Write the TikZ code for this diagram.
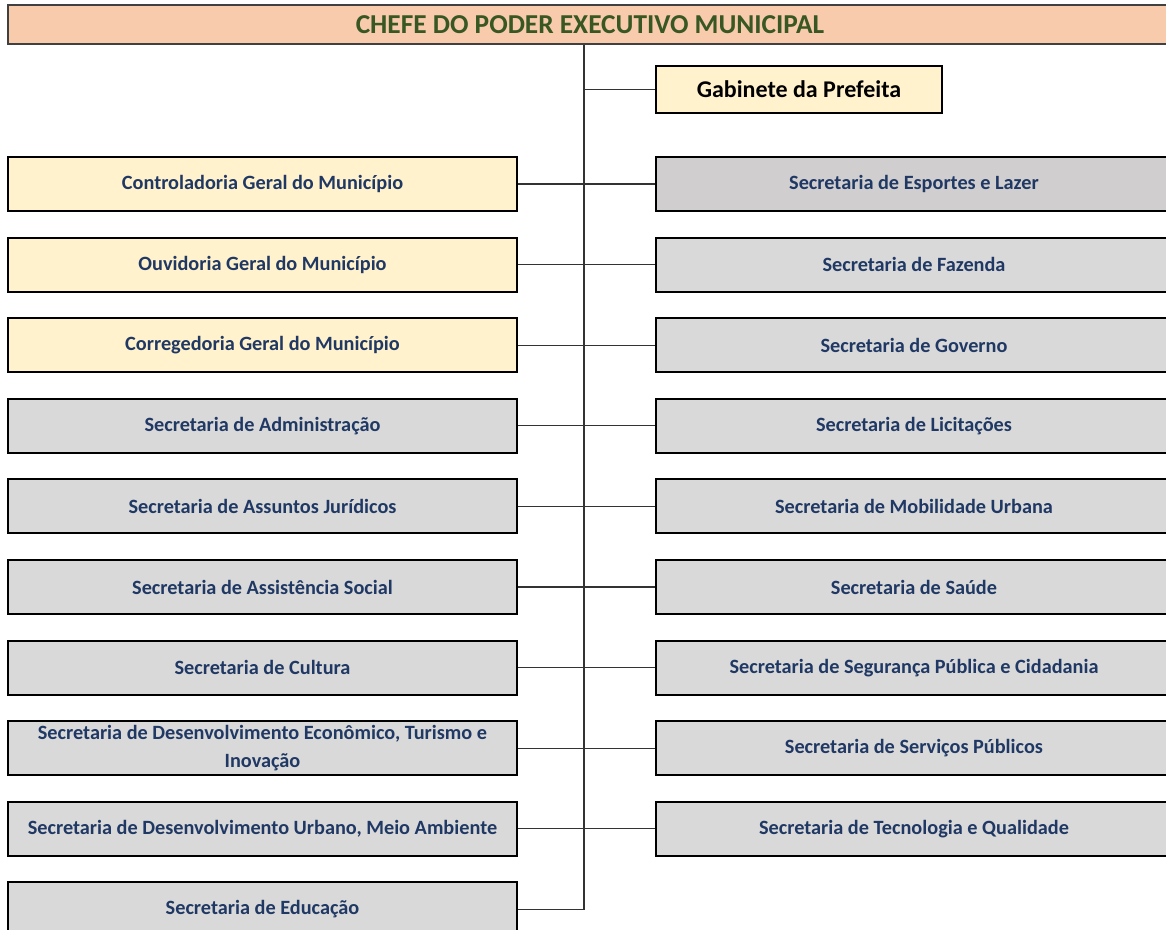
\documentclass[tikz,border=0pt]{standalone}
\usepackage{fontspec}
\setmainfont{Carlito}
\definecolor{peach}{HTML}{F8CBAD}
\definecolor{chefegreen}{HTML}{385723}
\definecolor{creme}{HTML}{FFF2CC}
\definecolor{cinza}{HTML}{D9D9D9}
\definecolor{cinzaesc}{HTML}{D0CECE}
\definecolor{azul}{HTML}{203864}

\begin{document}
\begin{tikzpicture}[x=0.75pt,y=-0.75pt,
	chefebox/.style={draw=black!75,line width=1.1pt,fill=peach,minimum width=873pt,minimum height=29.25pt,inner sep=0pt,text=chefegreen,font=\fontsize{20.5}{22}\selectfont\bfseries},
	gabbox/.style={draw=black,line width=1.6pt,fill=creme,minimum width=214.5pt,minimum height=35.25pt,inner sep=0pt,font=\fontsize{18}{20}\selectfont\bfseries},
	leftbox/.style={draw=black,line width=1.6pt,fill=cinza,minimum width=381.75pt,minimum height=40.5pt,inner sep=0pt,text=azul,align=center,font=\fontsize{15.2}{21}\selectfont\bfseries},
	rightbox/.style={leftbox,minimum width=387pt},
	link/.style={draw=black!80,line width=0.8pt}]
						\useasboundingbox (0,0) rectangle (1166,929);
						\node[chefebox] (chefe) at (590,24.5) {CHEFE DO PODER EXECUTIVO MUNICIPAL};
						\node[gabbox] (gab) at (799,89.5) {Gabinete da Prefeita};
						\node[leftbox,fill=creme] (cgm) at (262.5,184) {Controladoria Geral do Município};
						\node[leftbox,fill=creme] (ogm) at (262.5,264.6) {Ouvidoria Geral do Município};
						\node[leftbox,fill=creme] (corr) at (262.5,345.2) {Corregedoria Geral do Município};
						\node[leftbox] (adm) at (262.5,425.8) {Secretaria de Administração};
						\node[leftbox] (jur) at (262.5,506.4) {Secretaria de Assuntos Jurídicos};
						\node[leftbox] (assist) at (262.5,587) {Secretaria de Assistência Social};
						\node[leftbox] (cult) at (262.5,667.6) {Secretaria de Cultura};
						\node[leftbox] (desec) at (262.5,748.2) {Secretaria de Desenvolvimento Econômico, Turismo e\\Inovação};
						\node[leftbox] (desurb) at (262.5,828.8) {Secretaria de Desenvolvimento Urbano, Meio Ambiente};
						\node[leftbox] (edu) at (262.5,909.4) {Secretaria de Educação};
						\node[rightbox,fill=cinzaesc] (esp) at (914,184) {Secretaria de Esportes e Lazer};
						\node[rightbox] (faz) at (914,264.6) {Secretaria de Fazenda};
						\node[rightbox] (gov) at (914,345.2) {Secretaria de Governo};
						\node[rightbox] (lic) at (914,425.8) {Secretaria de Licitações};
						\node[rightbox] (mob) at (914,506.4) {Secretaria de Mobilidade Urbana};
						\node[rightbox] (sau) at (914,587) {Secretaria de Saúde};
						\node[rightbox] (seg) at (914,667.6) {Secretaria de Segurança Pública e Cidadania};
						\node[rightbox] (serv) at (914,748.2) {Secretaria de Serviços Públicos};
						\node[rightbox] (tec) at (914,828.8) {Secretaria de Tecnologia e Qualidade};
						\coordinate (spine) at (584,0);
						\draw[link] (chefe.south -| spine) -- (edu.east -| spine) -- (edu.east);
						\draw[link] (gab.west -| spine) -- (gab.west);
						\draw[link] (cgm.east) -- (esp.west);
						\draw[link] (ogm.east) -- (faz.west);
						\draw[link] (corr.east) -- (gov.west);
						\draw[link] (adm.east) -- (lic.west);
						\draw[link] (jur.east) -- (mob.west);
						\draw[link] (assist.east) -- (sau.west);
						\draw[link] (cult.east) -- (seg.west);
						\draw[link] (desec.east) -- (serv.west);
						\draw[link] (desurb.east) -- (tec.west);
					\end{tikzpicture}
\end{document}
